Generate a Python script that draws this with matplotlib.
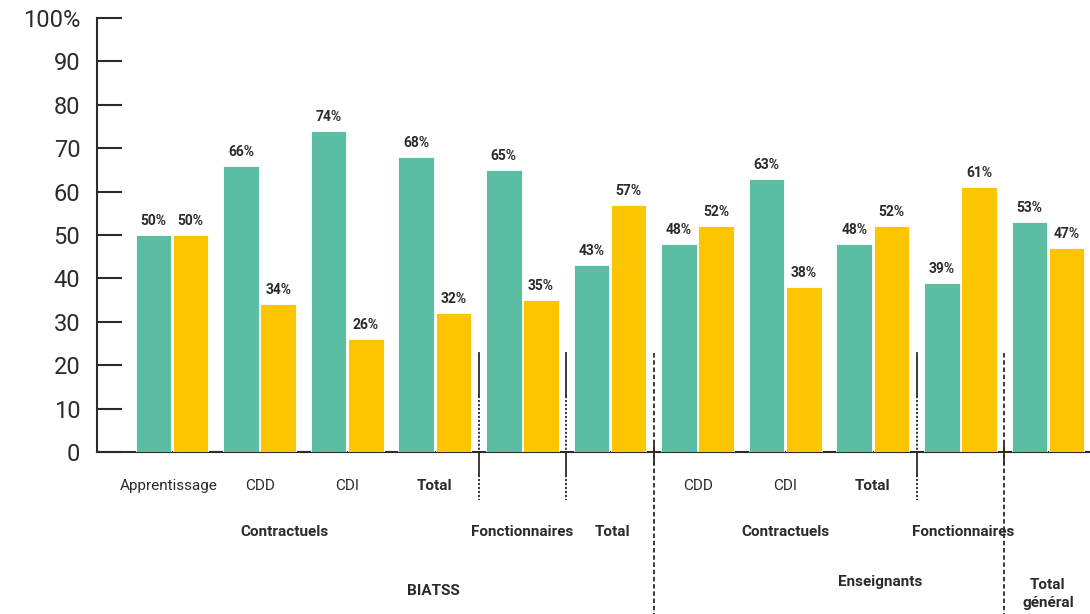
import matplotlib
matplotlib.use("Agg")
import matplotlib.pyplot as plt
from matplotlib import font_manager

# ---- data ----
categories = ["Apprentissage", "CDD", "CDI", "Total", "", "", "CDD", "CDI", "Total", "", ""]
green_values = [50, 66, 74, 68, 65, 43, 48, 63, 48, 39, 53]
yellow_values = [50, 34, 26, 32, 35, 57, 52, 38, 52, 61, 47]
level2_labels = ["Contractuels", "Fonctionnaires", "Total", "Contractuels", "Fonctionnaires"]
level3_labels = ["BIATSS", "Enseignants", "Total\ngénéral"]
y_ticks = [0, 10, 20, 30, 40, 50, 60, 70, 80, 90, 100]
y_tick_labels = ["0", "10", "20", "30", "40", "50", "60", "70", "80", "90", "100%"]

GREEN = "#5BBDA4"
YELLOW = "#FDC500"
DARK = "#2b2b2b"

avail = {f.name for f in font_manager.fontManager.ttflist}
FONT = "Roboto" if "Roboto" in avail else "DejaVu Sans"
plt.rcParams["font.family"] = [FONT, "DejaVu Sans"]

fig = plt.figure(figsize=(10.9, 6.14), dpi=100)
ax = fig.add_axes([97 / 1090, 1 - 452 / 614, 1 - 97 / 1090, (452 - 18) / 614])

n = len(green_values)
x = list(range(n))
w = 0.405
ax.bar([i - w / 2 - 0.01 for i in x], green_values, width=w, color=GREEN,
       edgecolor="white", linewidth=0.6, zorder=3)
ax.bar([i + w / 2 + 0.01 for i in x], yellow_values, width=w, color=YELLOW,
       edgecolor="white", linewidth=0.6, zorder=3)

for i in x:
    ax.text(i - w / 2 - 0.01, green_values[i] + 1.6, f"{green_values[i]}%", ha="center",
            va="bottom", fontsize=10, fontweight="bold", color=DARK, zorder=4)
    ax.text(i + w / 2 + 0.01, yellow_values[i] + 1.6, f"{yellow_values[i]}%", ha="center",
            va="bottom", fontsize=10, fontweight="bold", color=DARK, zorder=4)

ax.set_xlim(-0.856, 10.479)
ax.set_ylim(0, 100)
ax.set_yticks(y_ticks)
ax.set_yticklabels(y_tick_labels, fontsize=17, color=DARK)
ax.tick_params(axis="y", direction="in", length=18, width=1.5, color=DARK, pad=12)
ax.set_xticks([])
for s in ["top", "right"]:
    ax.spines[s].set_visible(False)
ax.spines["left"].set_color(DARK)
ax.spines["left"].set_linewidth(1.5)
ax.spines["bottom"].set_color(DARK)
ax.spines["bottom"].set_linewidth(1.5)
ax.spines["bottom"].set_zorder(1)

# category labels (level 1)
bold_level1 = {"Total"}
for i, lab in enumerate(categories):
    if lab:
        xi = i - 0.04 if lab == "Apprentissage" else i
        ax.text(xi, -7.8, lab, ha="center", va="center", fontsize=11, color=DARK,
                fontweight="bold" if lab in bold_level1 else "normal", clip_on=False)

# level 2 labels
level2_x = [1.28, 4.0, 5.03, 7.0, 9.03]
for xi, lab in zip(level2_x, level2_labels):
    ax.text(xi, -18.4, lab, ha="center", va="center", fontsize=11, fontweight="bold",
            color=DARK, clip_on=False)

# level 3 labels
level3_pos = [(2.98, -32.0), (8.08, -29.9), (10.0, -32.7)]
for (xi, yi), lab in zip(level3_pos, level3_labels):
    ax.text(xi, yi, lab, ha="center", va="center", fontsize=11, fontweight="bold",
            color=DARK, clip_on=False, linespacing=1.4)

# separators
minor_sep = [3.5, 4.5, 8.5]
major_sep = [5.5, 9.5]
for s in minor_sep:
    ax.plot([s, s], [22.8, 13], color=DARK, lw=1.3, clip_on=False, zorder=2)
    ax.plot([s, s], [13, 0], color=DARK, lw=1.3, ls=(0, (1.2, 1.0)), clip_on=False, zorder=2)
    ax.plot([s, s], [0, -5.3], color=DARK, lw=1.3, clip_on=False, zorder=2)
    ax.plot([s, s], [-5.3, -11.1], color=DARK, lw=1.3, ls=(0, (1.2, 1.0)), clip_on=False, zorder=2)
for s in major_sep:
    ax.plot([s, s], [22.8, -37.5], color=DARK, lw=1.3, ls=(0, (2.5, 1.5)), clip_on=False, zorder=2)
    ax.plot([s, s], [1.5, -2.5], color=DARK, lw=1.3, clip_on=False, zorder=2)

fig.savefig("out.png", dpi=100)
